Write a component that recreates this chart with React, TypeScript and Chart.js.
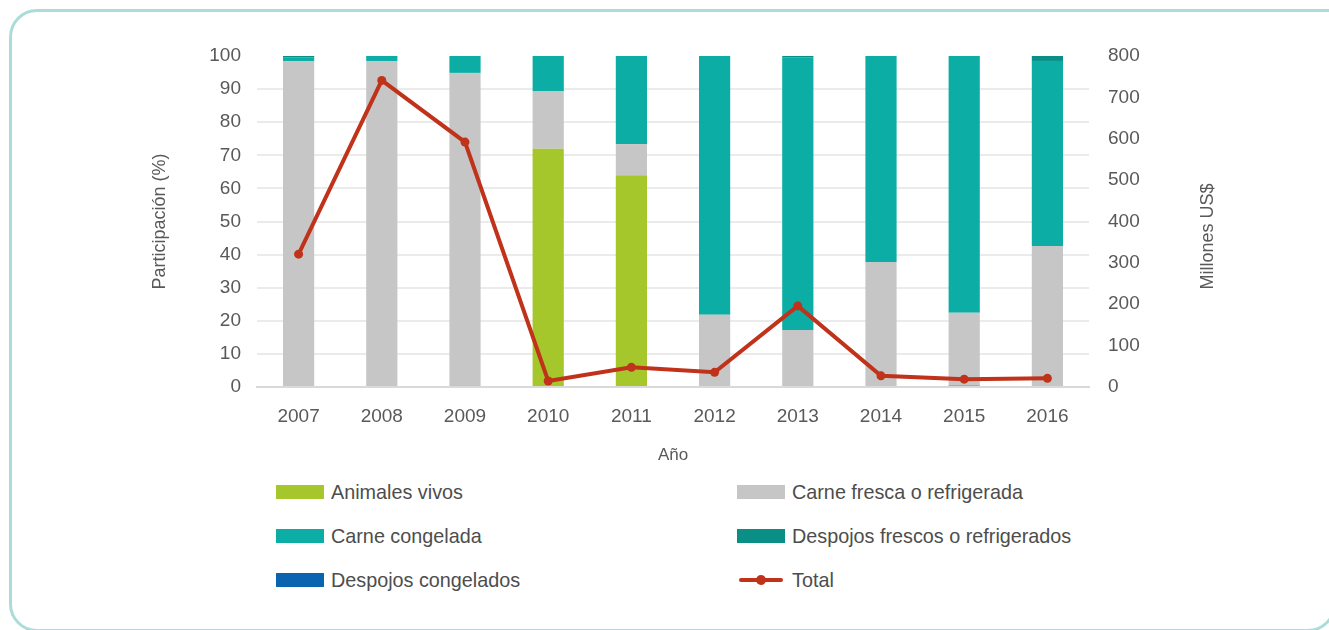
import React, { useEffect, useRef } from "react";
import { Chart, registerables } from "chart.js";

Chart.register(...registerables);

const years = ["2007", "2008", "2009", "2010", "2011", "2012", "2013", "2014", "2015", "2016"];
const animalesVivos = [0, 0, 0.5, 72, 64, 0, 0, 0, 0, 0];
const carneFresca = [98.5, 98.5, 94.4, 17.4, 9.4, 21.8, 17.2, 37.8, 22.0, 42.6];
const carneCongelada = [1.0, 1.5, 5.1, 10.6, 26.6, 78.2, 82.4, 62.2, 77.6, 55.9];
const despojosFrescos = [0.5, 0, 0, 0, 0, 0, 0.4, 0, 0, 1.5];
const despojosCongelados = [0, 0, 0, 0, 0, 0, 0, 0, 0.4, 0];
const total = [321, 741, 592, 14.5, 47.5, 35.5, 196, 27, 19, 21];
const leftTicks = [0, 10, 20, 30, 40, 50, 60, 70, 80, 90, 100];
const rightTicks = [0, 100, 200, 300, 400, 500, 600, 700, 800];

const C_GREEN = "#a5c72c";
const C_GRAY = "#c6c6c6";
const C_TEAL = "#0bada5";
const C_DTEAL = "#098f86";
const C_BLUE = "#0a64b0";
const C_RED = "#c0321a";
const FONT = "'Liberation Sans', Arial, sans-serif";
const TXT = "#595959";
const RIGHT_TITLE = "Millones US$";

const legendItems = [
  { label: "Animales vivos", color: C_GREEN, type: "box" },
  { label: "Carne fresca o refrigerada", color: C_GRAY, type: "box" },
  { label: "Carne congelada", color: C_TEAL, type: "box" },
  { label: "Despojos frescos o refrigerados", color: C_DTEAL, type: "box" },
  { label: "Despojos congelados", color: C_BLUE, type: "box" },
  { label: "Total", color: C_RED, type: "line" },
];

const rightTitlePlugin = {
  id: "rightTitle",
  afterDraw(chart: any) {
    const s = chart.scales.y1;
    if (!s) return;
    const ctx = chart.ctx;
    ctx.save();
    ctx.fillStyle = TXT;
    ctx.font = `18px ${FONT}`;
    ctx.textAlign = "center";
    ctx.textBaseline = "middle";
    ctx.translate(s.right - 11, (chart.chartArea.top + chart.chartArea.bottom) / 2 + 15);
    ctx.rotate(-Math.PI / 2);
    ctx.fillText(RIGHT_TITLE, 0, 0);
    ctx.restore();
  },
};

export default function App() {
  const ref = useRef<HTMLCanvasElement | null>(null);

  useEffect(() => {
    if (!ref.current) return;
    const bar = (label: string, data: number[], color: string) => ({
      type: "bar" as const,
      label,
      data,
      backgroundColor: color,
      borderWidth: 0,
      yAxisID: "y",
      stack: "s",
      order: 1,
      barPercentage: 0.375,
      categoryPercentage: 1,
    });
    const chart = new Chart(ref.current, {
      type: "bar",
      data: {
        labels: years,
        datasets: [
          bar("Despojos congelados", despojosCongelados, C_BLUE),
          bar("Animales vivos", animalesVivos, C_GREEN),
          bar("Carne fresca o refrigerada", carneFresca, C_GRAY),
          bar("Carne congelada", carneCongelada, C_TEAL),
          bar("Despojos frescos o refrigerados", despojosFrescos, C_DTEAL),
          {
            type: "line" as const,
            label: "Total",
            data: total,
            borderColor: C_RED,
            backgroundColor: C_RED,
            borderWidth: 4,
            pointRadius: 4.5,
            pointHoverRadius: 4.5,
            pointBorderWidth: 0,
            tension: 0,
            yAxisID: "y1",
            order: 0,
          } as any,
        ],
      },
      plugins: [rightTitlePlugin],
      options: {
        animation: false,
        responsive: false,
        maintainAspectRatio: false,
        layout: { padding: { left: 149, right: 110, top: 56, bottom: 4 } },
        plugins: { legend: { display: false }, tooltip: { enabled: false } },
        scales: {
          x: {
            stacked: true,
            grid: { display: false, drawTicks: false },
            border: { display: true, color: "#d9d9d9", width: 2 },
            ticks: { color: TXT, font: { family: FONT, size: 19 }, padding: 18 },
            title: { display: true, text: "Año", color: TXT, font: { family: FONT, size: 17 }, padding: 0 },
            afterFit: (s: any) => { s.height = 79; },
          },
          y: {
            stacked: true,
            position: "left",
            min: 0,
            max: 100,
            afterBuildTicks: (s: any) => { s.ticks = leftTicks.map((v) => ({ value: v })); },
            grid: {
              drawTicks: false,
              color: (ctx: any) => (ctx.tick && (ctx.tick.value === 100 || ctx.tick.value === 0)) ? "rgba(0,0,0,0)" : "#ebebeb",
              lineWidth: 2,
            },
            border: { display: false },
            ticks: { color: TXT, font: { family: FONT, size: 19 }, padding: 16 },
            title: { display: true, text: "Participación (%)", color: TXT, font: { family: FONT, size: 18 }, padding: 0 },
            afterFit: (s: any) => { s.width = 108; },
          },
          y1: {
            position: "right",
            min: 0,
            max: 800,
            afterBuildTicks: (s: any) => { s.ticks = rightTicks.map((v) => ({ value: v })); },
            grid: { display: false, drawTicks: false },
            border: { display: false },
            ticks: { color: TXT, font: { family: FONT, size: 19 }, padding: 19 },
            title: { display: false },
            afterFit: (s: any) => { s.width = 130; },
          },
        },
      },
    });
    return () => chart.destroy();
  }, []);

  return (
    <div style={{ position: "fixed", left: 0, top: 0, width: 1329, height: 630, background: "#fff", overflow: "hidden", fontFamily: FONT }}>
      <div
        style={{
          position: "absolute",
          left: 9,
          top: 9,
          width: 1327,
          height: 623,
          boxSizing: "border-box",
          border: "3px solid #acdcd9",
          borderRadius: "28px 0 28px 28px",
        }}
      />
      <canvas ref={ref} width={1329} height={470} style={{ position: "absolute", left: 0, top: 0, width: 1329, height: 470 }} />
      {legendItems.map((it, i) => {
        const col = i % 2;
        const row = Math.floor(i / 2);
        const x = col === 0 ? 276 : 737;
        const y = 492 + row * 44;
        return (
          <div key={it.label} style={{ position: "absolute", left: x, top: y - 14, height: 28, display: "flex", alignItems: "center" }}>
            {it.type === "box" ? (
              <div style={{ width: 48, height: 14, background: it.color }} />
            ) : (
              <div style={{ width: 48, height: 14, position: "relative" }}>
                <div style={{ position: "absolute", left: 2, right: 2, top: 5, height: 4, background: it.color, borderRadius: 2 }} />
                <div style={{ position: "absolute", left: 19, top: 2, width: 10, height: 10, borderRadius: 5, background: it.color }} />
              </div>
            )}
            <span style={{ marginLeft: 7, fontSize: 19.8, color: "#4d4d4d", whiteSpace: "nowrap" }}>{it.label}</span>
          </div>
        );
      })}
    </div>
  );
}
